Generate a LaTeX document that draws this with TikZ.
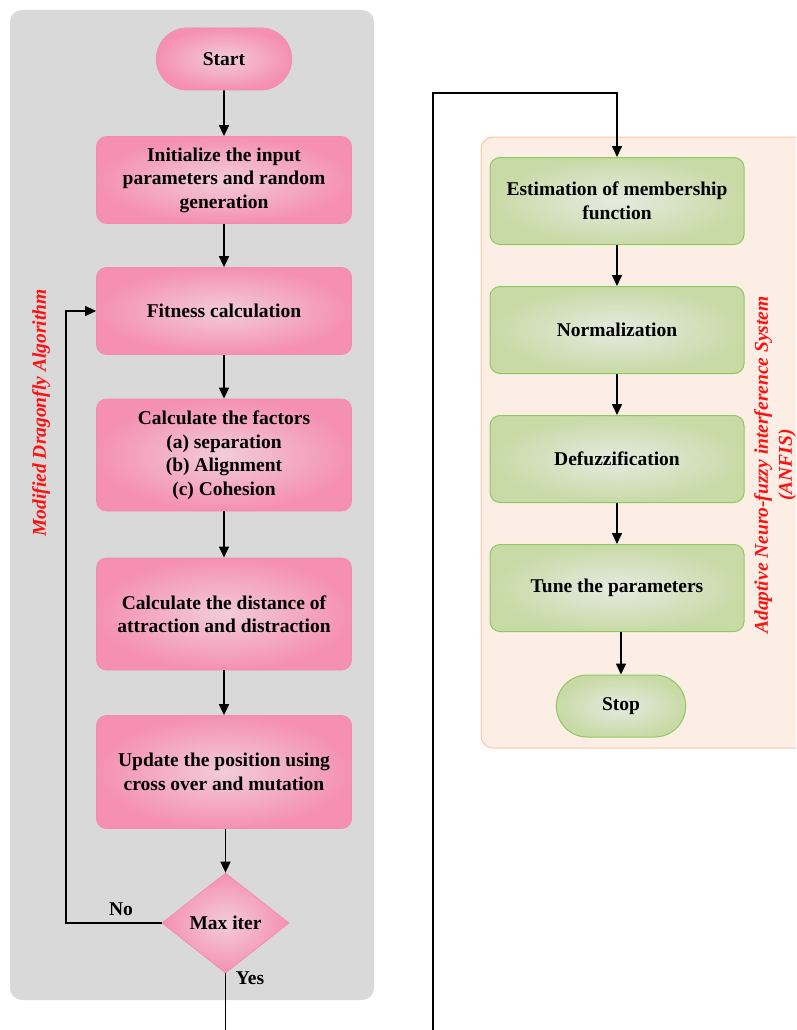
\documentclass[tikz,border=0pt]{standalone}
\usepackage{fontspec}
\setmainfont{Liberation Serif}
\usetikzlibrary{arrows.meta,shapes.geometric,shapes.misc}
\definecolor{panelgray}{HTML}{D9D9D9}
\definecolor{peach}{HTML}{FCEEE4}
\definecolor{peachedge}{HTML}{F8C8A4}
\definecolor{pinkin}{HTML}{F2CCD8}
\definecolor{pinkout}{HTML}{F590B2}
\definecolor{pinkedge}{HTML}{F48CAE}
\definecolor{greenin}{HTML}{E6EAE0}
\definecolor{greenout}{HTML}{C8DAA6}
\definecolor{greenedge}{HTML}{8DC95F}
\definecolor{lblred}{HTML}{FF1010}
\tikzset{
  txt/.style={font=\fontsize{19.5}{23.5}\selectfont\bfseries, align=center, text=black},
  pinkbox/.style={txt, draw=pinkedge, line width=0.8pt, rounded corners=10pt, inner color=pinkin, outer color=pinkout, minimum width=255pt, minimum height=87pt},
  greenbox/.style={txt, draw=greenedge, line width=1pt, rounded corners=10pt, inner color=greenin, outer color=greenout, minimum width=254pt, minimum height=87pt},
  conn/.style={line width=1.6pt, -{Triangle[width=10pt,length=11pt]}},
  plain/.style={line width=1.6pt},
  sidelbl/.style={font=\fontsize{19.5}{24}\selectfont\bfseries\itshape, text=lblred, align=center, rotate=90},
}
\begin{document}
\begin{tikzpicture}[x=1pt,y=-1pt]
\useasboundingbox (0,0) rectangle (796,1030);
\clip (0,0) rectangle (796,1030);
% panels
\fill[panelgray, rounded corners=12pt] (10,10) rectangle (374,1000);
\draw[peachedge, fill=peach, line width=1pt, rounded corners=12pt] (481,137) rectangle (810,748);
% left column
\node[txt, rounded rectangle, draw=pinkedge, line width=0.8pt, inner color=pinkin, outer color=pinkout, minimum width=142pt, minimum height=62pt] (start) at (224,59) {Start};
\node[pinkbox] (init) at (224,180) {Initialize the input\\parameters and random\\generation};
\node[pinkbox] (fit) at (224,311) {Fitness calculation};
\node[pinkbox, minimum height=112pt] (fac) at (224,455) {Calculate the factors\\(a) separation\\(b) Alignment\\(c) Cohesion};
\node[pinkbox, minimum height=112pt] (dist) at (224,614) {Calculate the distance of\\attraction and distraction};
\node[pinkbox, minimum height=113pt] (upd) at (224,772) {Update the position using\\cross over and mutation};
\node[txt, diamond, draw=pinkedge, line width=0.8pt, inner color=pinkin, outer color=pinkout, minimum width=127pt, minimum height=100pt, inner sep=0pt] (max) at (225.5,923) {Max iter};
\node[txt] (no) at (121,909) {No};
\node[txt] (yes) at (250,978) {Yes};
\node[sidelbl] (mda) at (41,413) {Modified Dragonfly Algorithm};
% right column
\node[greenbox] (est) at (617,201) {Estimation of membership\\function};
\node[greenbox] (norm) at (617,330) {Normalization};
\node[greenbox] (def) at (617,459) {Defuzzification};
\node[greenbox] (tune) at (617,588) {Tune the parameters};
\node[txt, rounded rectangle, draw=greenedge, line width=1pt, inner color=greenin, outer color=greenout, minimum width=136pt, minimum height=62pt] (stop) at (621,706) {Stop};
\node[sidelbl] (anfis) at (775,465) {Adaptive Neuro-fuzzy interference System\\(ANFIS)};
% connectors
\draw[conn] (start) -- (init);
\draw[conn] (init) -- (fit);
\draw[conn] (fit) -- (fac);
\draw[conn] (fac) -- (dist);
\draw[conn] (dist) -- (upd);
\draw[conn] (upd.south -| max.north) -- (max.north);
\coordinate (loopx) at (66,923);
\draw[conn] (max.west) -- (loopx) |- (fit.west);
\coordinate (bl) at (225.5,1035);
\coordinate (br) at (433,1035);
\coordinate (topr) at (433,93);
\draw[plain] (max.south) -- (bl);
\draw[conn] (br) -- (topr) -| (est.north);
\draw[conn] (est) -- (norm);
\draw[conn] (norm) -- (def);
\draw[conn] (def) -- (tune);
\draw[conn] (tune.south -| stop.north) -- (stop.north);
\end{tikzpicture}
\end{document}
